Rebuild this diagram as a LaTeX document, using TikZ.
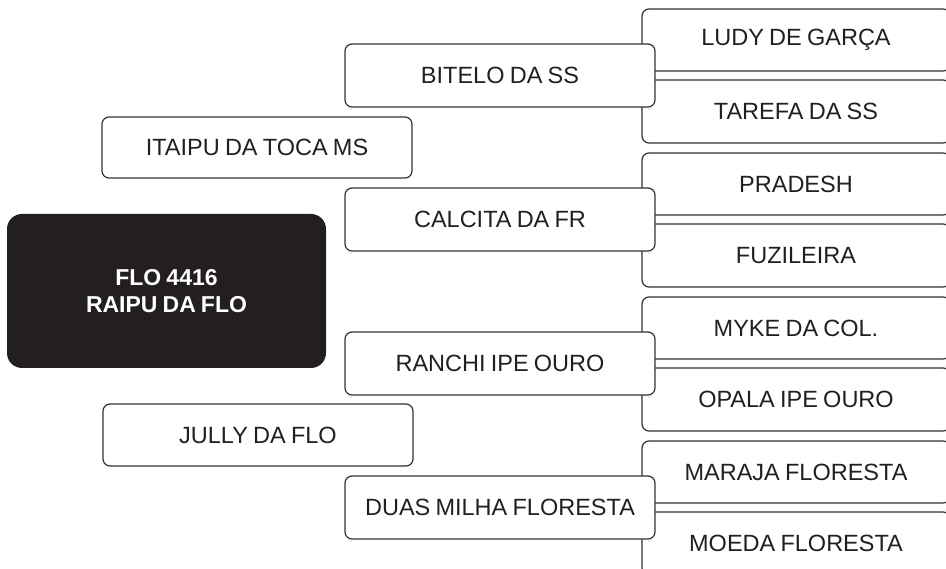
\documentclass[tikz,border=0pt]{standalone}
\usepackage{fontspec}
\setmainfont[WordSpace=0.8]{Liberation Sans}
\definecolor{ink}{HTML}{231F20}
\definecolor{edge}{HTML}{353233}
\begin{document}
\begin{tikzpicture}[x=1pt,y=-1pt,
  box/.style={draw=edge, line width=1.2pt, fill=white, rounded corners=7pt,
    inner sep=0pt, text=ink, font=\fontsize{23.5}{28}\selectfont},
  midbox/.style={box, minimum width=310pt, minimum height=63pt},
  sidebox/.style={box, minimum width=308pt},
  rootbox/.style={fill=ink, rounded corners=15pt, inner sep=0pt, text=white,
    minimum width=319pt, minimum height=154pt, align=center,
    font=\fontsize{23}{27}\bfseries\selectfont}]
\useasboundingbox (0,0) rectangle (946,569);
\clip (0,0) rectangle (946,569);
% right-hand pairs
\foreach \i/\ta/\tb in {0/LUDY DE GARÇA/TAREFA DA SS,
                        1/PRADESH/FUZILEIRA,
                        2/MYKE DA COL./OPALA IPE OURO,
                        3/MARAJA FLORESTA/MOEDA FLORESTA}{
  \node[sidebox, minimum height=62pt] (a\i) at (796, 40+144*\i) {\ta};
  \node[sidebox, minimum height=63pt] (b\i) at (796, 111.5+144*\i) {\tb};
}
% middle boxes
\node[midbox] (m0) at (500, 75.5) {BITELO DA SS};
\node[midbox] (m1) at (500, 219.5) {CALCITA DA FR};
\node[midbox] (m2) at (500, 363.5) {RANCHI IPE OURO};
\node[midbox] (m3) at (500, 507.5) {DUAS MILHA FLORESTA};
% left boxes
\node[box, minimum width=310pt, minimum height=61pt] (itaipu) at (257, 147.5) {ITAIPU DA TOCA MS};
\node[box, minimum width=310pt, minimum height=62pt] (jully) at (258, 435) {JULLY DA FLO};
\node[rootbox] (root) at (166.5, 291) {FLO 4416\\RAIPU DA FLO};
\end{tikzpicture}
\end{document}
